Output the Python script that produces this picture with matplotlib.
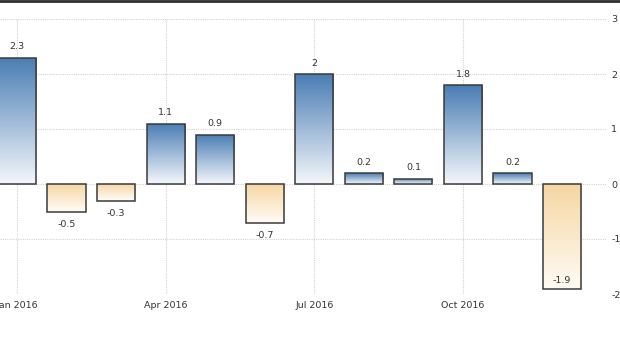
import numpy as np
import matplotlib
matplotlib.use("Agg")
import matplotlib.pyplot as plt
from matplotlib.colors import LinearSegmentedColormap
from matplotlib.lines import Line2D

# Monthly change, 2016
months = ["Jan", "Feb", "Mar", "Apr", "May", "Jun",
          "Jul", "Aug", "Sep", "Oct", "Nov", "Dec"]
values = [2.3, -0.5, -0.3, 1.1, 0.9, -0.7, 2.0, 0.2, 0.1, 1.8, 0.2, -1.9]
value_labels = ["2.3", "-0.5", "-0.3", "1.1", "0.9", "-0.7",
                "2", "0.2", "0.1", "1.8", "0.2", "-1.9"]
tick_months = [0, 3, 6, 9]
tick_labels = ["Jan 2016", "Apr 2016", "Jul 2016", "Oct 2016"]
y_ticks = [-2, -1, 0, 1, 2, 3]

plt.rcParams["font.family"] = ["DejaVu Sans"]
text_color = "#333333"
fs = 6.8

fig = plt.figure(figsize=(6.2, 3.5), dpi=100)
ax = fig.add_axes([0.0, 1 - 294 / 350, 607 / 620, 275 / 350])

x = np.arange(len(values))
bars = ax.bar(x, values, width=0.77, facecolor="none",
              edgecolor="#3a3a3a", linewidth=1.1, zorder=3)

blue = LinearSegmentedColormap.from_list("blue", ["#f4f7fb", "#4a7db4"])
orange = LinearSegmentedColormap.from_list("orange", ["#fffbf4", "#f6d6a2"])
grad = np.linspace(0, 1, 256).reshape(-1, 1)

for bar, v in zip(bars, values):
    x0 = bar.get_x()
    w = bar.get_width()
    if v >= 0:
        img = ax.imshow(grad, cmap=blue, origin="lower", aspect="auto",
                        extent=[x0, x0 + w, 0, v], zorder=2)
    else:
        img = ax.imshow(grad, cmap=orange, origin="lower", aspect="auto",
                        extent=[x0, x0 + w, v, 0], zorder=2)
    img.set_clip_path(bar)

# value labels
for xi, v, lab in zip(x, values, value_labels):
    if v >= 0:
        ax.text(xi, v + 0.11, lab, ha="center", va="bottom",
                fontsize=fs, color=text_color)
    elif v < -1.5:
        ax.text(xi, v + 0.06, lab, ha="center", va="bottom",
                fontsize=fs, color=text_color)
    else:
        ax.text(xi, v - 0.16, lab, ha="center", va="top",
                fontsize=fs, color=text_color)

ax.set_xlim(-0.343, 11.907)
ax.set_ylim(-2, 3)
ax.set_xticks(tick_months)
ax.set_xticklabels(tick_labels)
ax.set_yticks(y_ticks)
ax.set_yticklabels([str(t) for t in y_ticks])
ax.yaxis.tick_right()
ax.tick_params(axis="both", length=0, labelsize=fs, colors=text_color)
ax.tick_params(axis="x", pad=5)
ax.tick_params(axis="y", pad=3)
ax.grid(True, color="#d2d2d2", linestyle=(0, (1, 1)), linewidth=0.8, zorder=0)
ax.set_axisbelow(True)
for s in ax.spines.values():
    s.set_visible(False)

# dark rule along the top edge
fig.add_artist(Line2D([0, 1], [0.998, 0.998], transform=fig.transFigure,
                      color="#2e2e2e", linewidth=2.0))

fig.savefig("out.png", dpi=100)
